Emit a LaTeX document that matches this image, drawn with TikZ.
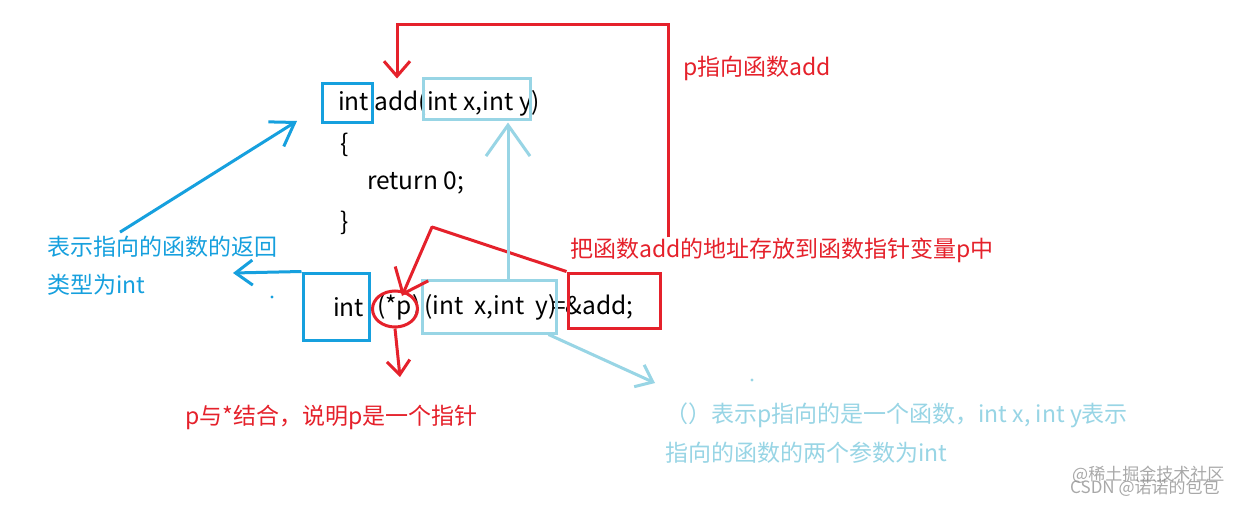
\documentclass[tikz,border=0pt]{standalone}
\usepackage{fontspec}
\setmainfont{Noto Sans CJK SC}
\usetikzlibrary{arrows.meta,shapes.geometric}
\definecolor{cred}{RGB}{229,33,43}
\definecolor{cblue}{RGB}{22,160,222}
\definecolor{clight}{RGB}{152,213,229}
\definecolor{cmark}{RGB}{140,140,140}
\tikzset{
  txt/.style={inner sep=0pt, anchor=west, font=\fontsize{23}{27}\selectfont},
  codetxt/.style={inner sep=0pt, anchor=west, text=black, font=\fontsize{24.5}{28}\selectfont},
  redtxt/.style={txt, text=cred},
  bluetxt/.style={txt, text=cblue},
  lighttxt/.style={txt, text=clight},
  marktxt/.style={inner sep=0pt, anchor=west, text=cmark, opacity=0.75, font=\fontsize{17}{20}\selectfont},
  bbox/.style={draw=cblue, line width=3pt, inner sep=0pt, rectangle},
  lbox/.style={draw=clight, line width=3pt, inner sep=0pt, rectangle},
  rbox/.style={draw=cred, line width=3pt, inner sep=0pt, rectangle},
  redline/.style={draw=cred, line width=3pt},
  blueline/.style={draw=cblue, line width=3pt},
  lightline/.style={draw=clight, line width=3pt},
}
\begin{document}
\begin{tikzpicture}[x=1pt,y=-1pt]
\useasboundingbox (0,0) rectangle (1255,506);
\fill[white] (0,0) rectangle (1255,506);

% code
\node[codetxt] (c1) at (338,103) {int add(int x,int y)};
\node[codetxt] (c2) at (340,145) {\{};
\node[codetxt] (c3) at (367,183) {return 0;};
\node[codetxt] (c4) at (340,223) {\}};

\node[codetxt] (intB) at (333,307) {int};
\node[codetxt] (ptrT) at (377,307) {(*p)};
\node[codetxt] (parT) at (424,307) {(int~~x,int~~y)};
\node[codetxt] (eqT) at (552,307) {=\&add;};

% boxes
\node[bbox, minimum width=50pt, minimum height=39pt] (retA) at (347,102.5) {};
\node[lbox, minimum width=107pt, minimum height=41pt] (parA) at (476.5,98.5) {};
\node[bbox, minimum width=66pt, minimum height=67pt] (retB) at (336,306.5) {};
\node[lbox, minimum width=134pt, minimum height=53pt] (parB) at (489,306.5) {};
\node[rbox, minimum width=92pt, minimum height=55pt] (ampB) at (614,300.5) {};
\node[draw=cred, line width=3pt, ellipse, inner sep=0pt, minimum width=45pt, minimum height=36pt] (ptrE) at (395,309) {};

% labels
\node[redtxt] (pto) at (683,68) {p指向函数add};
\node[redtxt] (store) at (570,250) {把函数add的地址存放到函数指针变量p中};
\node[bluetxt] (ret1) at (47,247) {表示指向的函数的返回};
\node[bluetxt] (ret2) at (47,285) {类型为int};
\node[redtxt] (ptrlab) at (185,417) {p与*结合，说明p是一个指针};
\node[lighttxt] (par1) at (665,415) {（）表示p指向的是一个函数，int x, int y表示};
\node[lighttxt] (par2) at (665,453) {指向的函数的两个参数为int};

\node[marktxt] (wm1) at (1072,475) {@稀土掘金技术社区};
\node[marktxt] (wm2) at (1070,488) {CSDN @诺诺的包包};

% coordinates
\coordinate (topR) at (668,24);
\coordinate (topL) at (397,24);
\coordinate (bend) at (432,227);
\coordinate (ptip) at (402,296);
\coordinate (pdown) at (400,377);
\coordinate (lv) at (508,0);
\coordinate (ldtip) at (655,383);
\coordinate (bt) at (297,121);
\coordinate (bl) at (233,273);

% connectors
\draw[redline, -{Straight Barb[length=15pt,width=26pt]}]
  (store.north -| topR) -- (topR) -- (topL) -- ([yshift=3pt]retA.north -| topL);
\draw[redline, line join=round, -{Straight Barb[length=22pt,width=36pt]}]
  (ampB.north west) -- (bend) -- (ptip);
\draw[redline, -{Straight Barb[length=14pt,width=23pt]}]
  (ptrE.south) -- (pdown);
\draw[lightline, -{Straight Barb[length=31pt,width=44pt]}]
  (parB.north -| lv) -- ([yshift=-2pt]parA.south -| lv);
\draw[lightline, -{Straight Barb[length=15pt,width=24pt]}]
  ([xshift=-9pt]parB.south east) -- (ldtip);
\draw[blueline, -{Straight Barb[length=22pt,width=29pt]}]
  ([xshift=73pt,yshift=4pt]ret1.north west) -- (bt);
\draw[blueline, -{Straight Barb[length=17pt,width=25pt]}]
  (retB.north west) -- (bl);

% stray dots
\fill[cblue] (272,297) circle[radius=1.6pt];
\fill[clight] (752,380) circle[radius=1.6pt];
\end{tikzpicture}
\end{document}
